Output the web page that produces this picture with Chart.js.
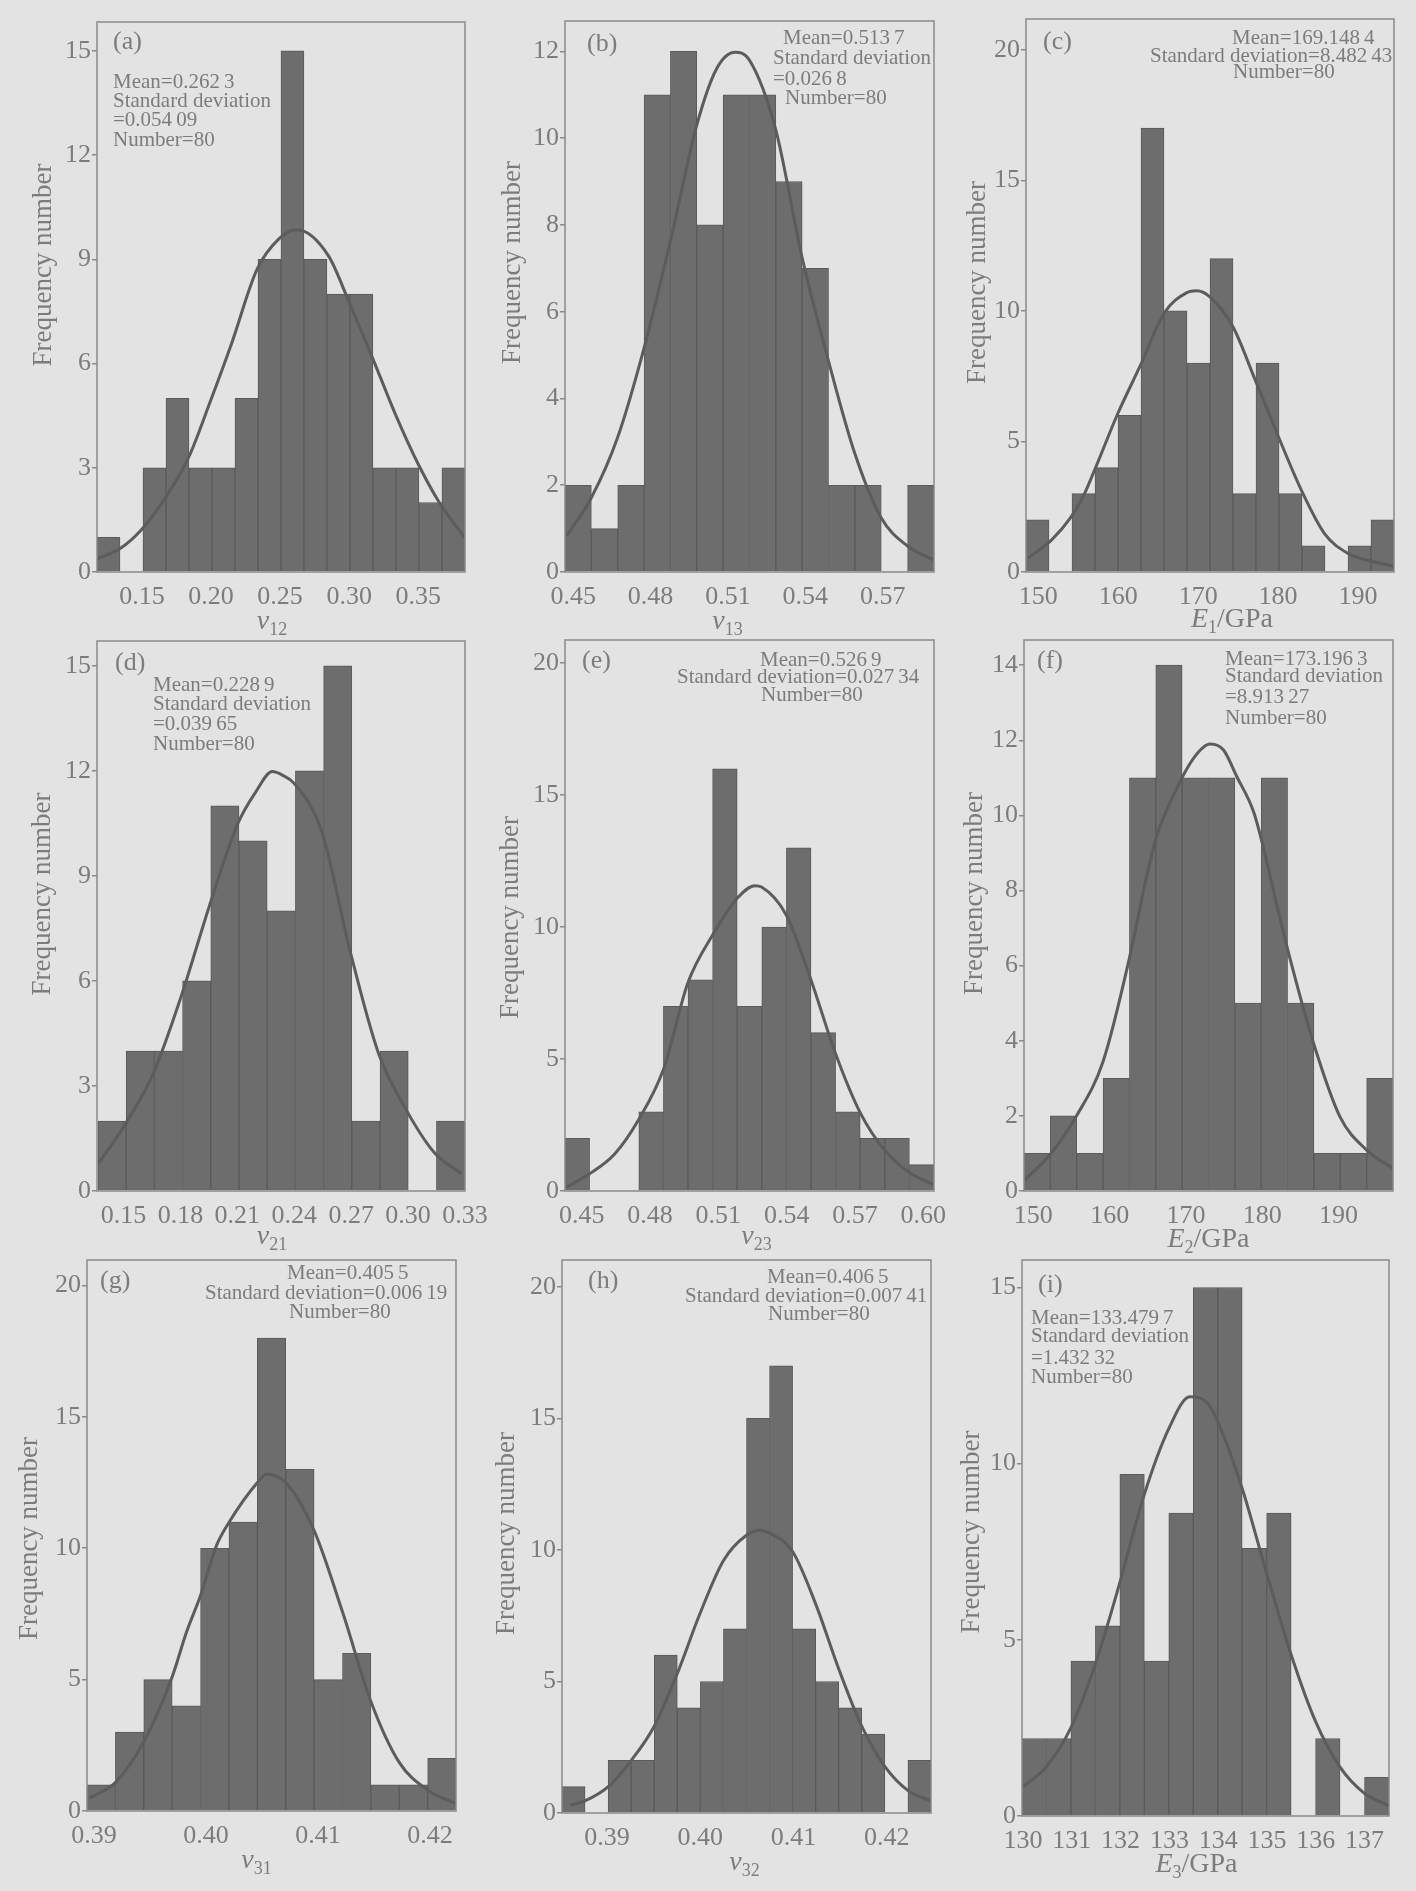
<!DOCTYPE html>
<html>
<head>
<meta charset="utf-8">
<script src="https://cdn.jsdelivr.net/npm/chart.js@4.4.0/dist/chart.umd.min.js"></script>
<style>
  html, body { margin: 0; padding: 0; background: #e3e3e3; }
  #page { position: relative; width: 1416px; height: 1891px; overflow: hidden; }
  #page canvas { position: absolute; }
</style>
</head>
<body>
<div id="page"></div>
<script>
// ---- data (frequency per bin + fitted normal curve) ----
const aCounts = [1, 0, 3, 5, 3, 3, 5, 9, 15, 9, 8, 8, 3, 3, 2, 3];
const aBinStart = 0.1175, aBinWidth = 0.01664;
const aCurveX = [0.1175, 0.1348, 0.1493, 0.1664, 0.1838, 0.1994, 0.2151, 0.2332, 0.2495, 0.2621, 0.2850, 0.3006, 0.3175, 0.3344, 0.3500, 0.3652, 0.3838];
const aCurveY = [0.38, 0.69, 1.2, 2.1, 3.3, 4.9, 6.6, 8.7, 9.6, 9.85, 9.1, 7.7, 6.1, 4.45, 3.1, 2.0, 0.98];

const bCounts = [2, 1, 2, 11, 12, 8, 11, 11, 9, 7, 2, 2, 0, 2];
const bBinStart = 0.4468, bBinWidth = 0.01022;
const bCurveX = [0.4474, 0.4570, 0.4672, 0.4774, 0.4877, 0.4979, 0.5056, 0.5128, 0.5183, 0.5285, 0.5387, 0.5490, 0.5592, 0.5694, 0.5796, 0.5898];
const bCurveY = [0.83, 1.71, 3.1, 5.15, 7.63, 10.3, 11.6, 11.98, 11.8, 10.2, 7.26, 4.86, 2.73, 1.25, 0.6, 0.28];

const cCounts = [2, 0, 3, 4, 6, 17, 10, 8, 12, 3, 8, 3, 1, 0, 1, 2];
const cBinStart = 148.46, cBinWidth = 2.8775;
const cCurveX = [148.75, 151.67, 154.04, 155.63, 157.17, 159.96, 162.83, 165.71, 168.58, 169.79, 171.46, 174.33, 177.21, 180.08, 182.96, 185.83, 188.71, 191.58, 194.46];
const cCurveY = [0.54, 1.23, 2.08, 2.9, 4.0, 6.08, 7.95, 9.9, 10.7, 10.77, 10.54, 9.4, 7.3, 5.15, 3.1, 1.46, 0.72, 0.42, 0.23];

const dCounts = [2, 4, 4, 6, 11, 10, 8, 12, 15, 2, 4, 0, 2];
const dBinStart = 0.1365, dBinWidth = 0.01487;
const dCurveX = [0.1369, 0.1508, 0.1657, 0.1805, 0.1953, 0.2101, 0.2197, 0.2284, 0.2337, 0.2398, 0.2546, 0.2694, 0.2843, 0.2991, 0.3139, 0.3279];
const dCurveY = [0.79, 1.9, 3.36, 5.58, 8.15, 10.48, 11.4, 11.98, 11.88, 11.65, 10.25, 6.86, 3.95, 2.31, 1.09, 0.5];

const eCounts = [2, 0, 0, 3, 7, 8, 16, 7, 10, 13, 6, 3, 2, 2, 1];
const eBinStart = 0.4427, eBinWidth = 0.0108;
const eCurveX = [0.4434, 0.4535, 0.4644, 0.4750, 0.4859, 0.4967, 0.5075, 0.5184, 0.5261, 0.5290, 0.5399, 0.5507, 0.5615, 0.5724, 0.5830, 0.5939, 0.6047];
const eCurveY = [0.15, 0.65, 1.39, 2.7, 4.6, 7.9, 9.7, 11.1, 11.57, 11.52, 10.45, 8.0, 5.2, 2.95, 1.55, 0.7, 0.23];

const fCounts = [1, 2, 1, 3, 11, 14, 11, 11, 5, 11, 5, 1, 1, 3];
const fBinStart = 148.78, fBinWidth = 3.4536;
const fCurveX = [148.91, 152.23, 155.69, 159.14, 162.59, 164.87, 166.18, 168.37, 170.99, 173.17, 174.92, 176.67, 178.86, 180.17, 181.92, 183.88, 186.77, 190.22, 193.68, 197.13];
const fCurveY = [0.3, 0.98, 2.01, 3.45, 6.2, 8.4, 9.46, 10.54, 11.52, 11.9, 11.74, 11.03, 10.1, 9.13, 7.6, 6.0, 3.9, 1.96, 1.09, 0.6];

const gCounts = [1, 3, 5, 4, 10, 11, 18, 13, 5, 6, 1, 1, 2];
const gBinStart = 0.38937, gBinWidth = 0.002535;
const gCurveX = [0.38961, 0.39190, 0.39443, 0.39697, 0.39825, 0.39950, 0.40093, 0.40203, 0.40459, 0.40540, 0.40712, 0.40966, 0.41219, 0.41472, 0.41725, 0.41978, 0.42232];
const gCurveY = [0.5, 1.08, 2.63, 5.1, 6.8, 8.19, 10.1, 10.97, 12.5, 12.82, 12.5, 10.66, 7.57, 4.17, 1.85, 0.8, 0.28];

const hCounts = [1, 0, 2, 2, 6, 4, 5, 7, 15, 17, 7, 5, 4, 3, 0, 2];
const hBinStart = 0.38518, hBinWidth = 0.002473;
const hCurveX = [0.38607, 0.38764, 0.39014, 0.39261, 0.39507, 0.39754, 0.40000, 0.40250, 0.40496, 0.40643, 0.40743, 0.40989, 0.41239, 0.41486, 0.41732, 0.41979, 0.42229, 0.42475];
const hCurveY = [0.3, 0.46, 1.0, 2.0, 3.3, 5.3, 7.6, 9.6, 10.56, 10.75, 10.64, 9.95, 7.94, 5.47, 3.3, 1.77, 0.85, 0.46];

const iCounts = [2.2, 2.2, 4.4, 5.4, 9.7, 4.4, 8.6, 15, 15, 7.6, 8.6, 0, 2.2, 0, 1.1];
const iBinStart = 129.98, iBinWidth = 0.5013;
const iCurveX = [130.01, 130.48, 130.98, 131.48, 131.98, 132.48, 132.99, 133.42, 133.76, 133.99, 134.49, 134.99, 135.49, 135.99, 136.49, 136.99, 137.49];
const iCurveY = [0.84, 1.4, 2.5, 4.3, 6.6, 9.1, 11.0, 11.9, 11.75, 11.2, 9.3, 6.9, 4.6, 2.7, 1.4, 0.65, 0.3];

// ---- look ----
const BAR = '#6d6d6d', BAR_EDGE = '#5a5a5a', CURVE = '#5c5c5c', FRAME = '#8a8a8a', TEXT = '#7c7c7c';
const SERIF = '"Liberation Serif", "Times New Roman", serif';
const Y_BOX = 85, X_BOX = 75, PAD_TOP = 25, PAD_RIGHT = 35;
const TS = '\u2009';

// x: [min, max, step, decimals], y: [max, step]
const panels = [
  { rect: [97, 22, 465, 572], counts: aCounts, bin: [aBinStart, aBinWidth], cx: aCurveX, cy: aCurveY,
    x: [0.1175, 0.3838, 0.05, 2], y: [15.83, 3], tag: ['(a)', 16, 20],
    notes: [['Mean=0.262' + TS + '3', 16, 60], ['Standard deviation', 16, 79], ['=0.054' + TS + '09', 16, 98], ['Number=80', 16, 118]],
    yTitle: [-53, -32], xTitle: { sym: 'ν', sub: '12', tail: '', dx: -9, dy: 48 } },
  { rect: [565, 21, 934, 572], counts: bCounts, bin: [bBinStart, bBinWidth], cx: bCurveX, cy: bCurveY,
    x: [0.4468, 0.5899, 0.03, 2], y: [12.7, 2], tag: ['(b)', 22, 23],
    notes: [['Mean=0.513' + TS + '7', 218, 17], ['Standard deviation', 208, 37], ['=0.026' + TS + '8', 208, 58], ['Number=80', 220, 77]],
    yTitle: [-52, -34], xTitle: { sym: 'ν', sub: '13', tail: '', dx: -22, dy: 48 } },
  { rect: [1026, 19, 1394, 572], counts: cCounts, bin: [cBinStart, cBinWidth], cx: cCurveX, cy: cCurveY,
    x: [148.46, 194.5, 10, 0], y: [21.18, 5], tag: ['(c)', 17, 23],
    notes: [['Mean=169.148' + TS + '4', 206, 19], ['Standard deviation=8.482' + TS + '43', 124, 37], ['Number=80', 207, 53]],
    yTitle: [-48, -13], xTitle: { sym: 'E', sub: '1', tail: '/GPa', dx: 22, dy: 46 } },
  { rect: [97, 641, 465, 1191], counts: dCounts, bin: [dBinStart, dBinWidth], cx: dCurveX, cy: dCurveY,
    x: [0.136, 0.33, 0.03, 2], y: [15.71, 3], tag: ['(d)', 18, 22],
    notes: [['Mean=0.228' + TS + '9', 56, 44], ['Standard deviation', 56, 63], ['=0.039' + TS + '65', 56, 83], ['Number=80', 56, 103]],
    yTitle: [-54, -22], xTitle: { sym: 'ν', sub: '21', tail: '', dx: -9, dy: 44 } },
  { rect: [565, 640, 934, 1191], counts: eCounts, bin: [eBinStart, eBinWidth], cx: eCurveX, cy: eCurveY,
    x: [0.4427, 0.6047, 0.03, 2], y: [20.88, 5], tag: ['(e)', 17, 21],
    notes: [['Mean=0.526' + TS + '9', 195, 20], ['Standard deviation=0.027' + TS + '34', 112, 37], ['Number=80', 196, 55]],
    yTitle: [-54, 2], xTitle: { sym: 'ν', sub: '23', tail: '', dx: 7, dy: 44 } },
  { rect: [1024, 640, 1393, 1191], counts: fCounts, bin: [fBinStart, fBinWidth], cx: fCurveX, cy: fCurveY,
    x: [148.78, 197.13, 10, 0], y: [14.67, 2], tag: ['(f)', 13, 21],
    notes: [['Mean=173.196' + TS + '3', 201, 19], ['Standard deviation', 201, 36], ['=8.913' + TS + '27', 201, 57], ['Number=80', 201, 78]],
    yTitle: [-49, -22], xTitle: { sym: 'E', sub: '2', tail: '/GPa', dx: 0, dy: 47 } },
  { rect: [87, 1260, 456, 1811], counts: gCounts, bin: [gBinStart, gBinWidth], cx: gCurveX, cy: gCurveY,
    x: [0.38937, 0.42232, 0.01, 2], y: [20.97, 5], tag: ['(g)', 13, 21],
    notes: [['Mean=0.405' + TS + '5', 200, 13], ['Standard deviation=0.006' + TS + '19', 118, 33], ['Number=80', 202, 52]],
    yTitle: [-57, 3], xTitle: { sym: 'ν', sub: '31', tail: '', dx: -15, dy: 48 } },
  { rect: [562, 1260, 931, 1813], counts: hCounts, bin: [hBinStart, hBinWidth], cx: hCurveX, cy: hCurveY,
    x: [0.38518, 0.42475, 0.01, 2], y: [21.02, 5], tag: ['(h)', 26, 21],
    notes: [['Mean=0.406' + TS + '5', 205, 17], ['Standard deviation=0.007' + TS + '41', 123, 36], ['Number=80', 206, 54]],
    yTitle: [-55, -3], xTitle: { sym: 'ν', sub: '32', tail: '', dx: -2, dy: 48 } },
  { rect: [1022, 1260, 1389, 1816], counts: iCounts, bin: [iBinStart, iBinWidth], cx: iCurveX, cy: iCurveY,
    x: [129.98, 137.5, 1, 0], y: [15.78, 5], tag: ['(i)', 16, 25],
    notes: [['Mean=133.479' + TS + '7', 9, 58], ['Standard deviation', 9, 76], ['=1.432' + TS + '32', 9, 98], ['Number=80', 9, 117]],
    yTitle: [-50, -6], xTitle: { sym: 'E', sub: '3', tail: '/GPa', dx: -9, dy: 47 } }
];

// frame, panel tag, statistics text and axis titles
const panelText = {
  id: 'panelText',
  afterDraw(chart, args, p) {
    const { ctx, chartArea: a } = chart;
    ctx.save();
    ctx.strokeStyle = FRAME;
    ctx.lineWidth = 1.5;
    ctx.strokeRect(a.left, a.top, a.right - a.left, a.bottom - a.top);

    ctx.fillStyle = TEXT;
    ctx.textAlign = 'left';
    ctx.textBaseline = 'middle';
    ctx.font = '26px ' + SERIF;
    ctx.fillText(p.tag[0], a.left + p.tag[1], a.top + p.tag[2]);

    ctx.font = '21px ' + SERIF;
    p.notes.forEach(n => ctx.fillText(n[0], a.left + n[1], a.top + n[2]));

    // y title
    ctx.save();
    ctx.translate(a.left + p.yTitle[0], (a.top + a.bottom) / 2 + p.yTitle[1]);
    ctx.rotate(-Math.PI / 2);
    ctx.textAlign = 'center';
    ctx.font = '27px ' + SERIF;
    ctx.fillText('Frequency number', 0, 0);
    ctx.restore();

    // x title with subscript
    const t = p.xTitle;
    const fMain = 'italic 28px ' + SERIF, fSub = '18px ' + SERIF, fTail = '28px ' + SERIF;
    ctx.font = fMain; const w1 = ctx.measureText(t.sym).width;
    ctx.font = fSub; const w2 = ctx.measureText(t.sub).width;
    ctx.font = fTail; const w3 = t.tail ? ctx.measureText(t.tail).width : 0;
    let x = (a.left + a.right) / 2 + t.dx - (w1 + w2 + w3) / 2;
    const base = a.bottom + t.dy + 9;
    ctx.textBaseline = 'alphabetic';
    ctx.font = fMain; ctx.fillText(t.sym, x, base); x += w1;
    ctx.font = fSub; ctx.fillText(t.sub, x, base + 6); x += w2;
    if (t.tail) { ctx.font = fTail; ctx.fillText(t.tail, x, base); }
    ctx.restore();
  }
};

const page = document.getElementById('page');

panels.forEach(p => {
  const [x0, y0, x1, y1] = p.rect;
  const w = (x1 - x0) + Y_BOX + PAD_RIGHT;
  const h = (y1 - y0) + PAD_TOP + X_BOX;
  const canvas = document.createElement('canvas');
  canvas.width = w;
  canvas.height = h;
  canvas.style.left = (x0 - Y_BOX) + 'px';
  canvas.style.top = (y0 - PAD_TOP) + 'px';
  canvas.style.width = w + 'px';
  canvas.style.height = h + 'px';
  page.appendChild(canvas);

  const [binStart, binWidth] = p.bin;
  const bars = p.counts.map((c, i) => ({ x: binStart + (i + 0.5) * binWidth, y: c }));
  const curve = p.cx.map((v, i) => ({ x: v, y: p.cy[i] }));
  const [xMin, xMax, xStep, dec] = p.x;

  new Chart(canvas.getContext('2d'), {
    type: 'bar',
    data: {
      datasets: [
        {
          type: 'line',
          data: curve,
          borderColor: CURVE,
          borderWidth: 3,
          pointRadius: 0,
          cubicInterpolationMode: 'monotone',
          fill: false,
          order: 0
        },
        {
          type: 'bar',
          data: bars,
          backgroundColor: BAR,
          borderColor: BAR_EDGE,
          borderWidth: 1,
          barPercentage: 1,
          categoryPercentage: 1,
          order: 1
        }
      ]
    },
    options: {
      responsive: false,
      animation: false,
      layout: { padding: { top: PAD_TOP, right: PAD_RIGHT, left: 0, bottom: 0 } },
      plugins: {
        legend: { display: false },
        tooltip: { enabled: false },
        panelText: p
      },
      scales: {
        x: {
          type: 'linear',
          min: xMin,
          max: xMax,
          offset: false,
          grid: { display: false, offset: false },
          border: { display: false },
          ticks: {
            stepSize: xStep,
            includeBounds: false,
            autoSkip: false,
            maxRotation: 0,
            padding: 2,
            color: TEXT,
            font: { family: SERIF, size: 26 },
            callback: v => Number(v).toFixed(dec)
          },
          afterFit: s => { s.height = X_BOX; s.paddingLeft = 0; s.paddingRight = 0; }
        },
        y: {
          min: 0,
          max: p.y[0],
          grid: { drawOnChartArea: false, tickLength: 5, color: FRAME, lineWidth: 1.5 },
          border: { display: false },
          ticks: {
            stepSize: p.y[1],
            includeBounds: false,
            padding: 1,
            color: TEXT,
            font: { family: SERIF, size: 26 }
          },
          afterFit: s => { s.width = Y_BOX; s.paddingTop = 0; s.paddingBottom = 0; }
        }
      }
    },
    plugins: [panelText]
  });
});
</script>
</body>
</html>
